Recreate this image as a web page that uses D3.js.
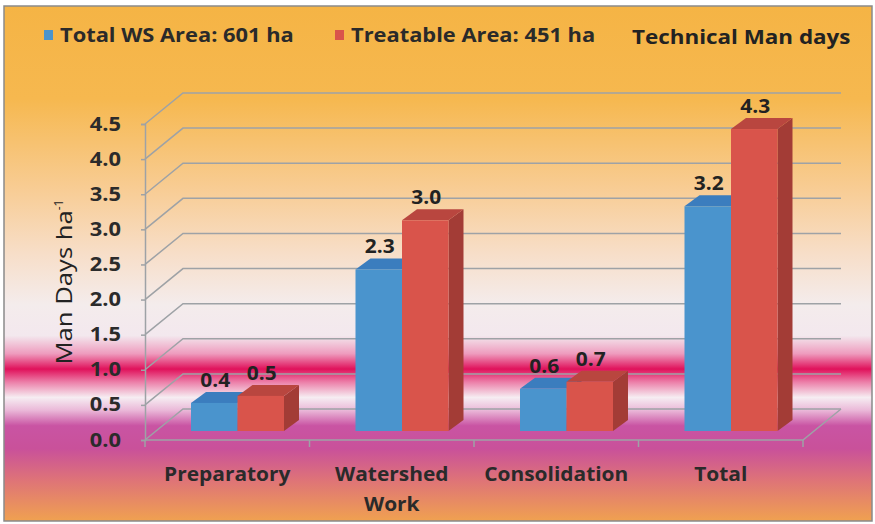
<!DOCTYPE html>
<html>
<head>
<meta charset="utf-8">
<script src="https://cdn.jsdelivr.net/npm/d3@7"></script>
<style>
  html, body { margin: 0; padding: 0; background: #fff; }
  svg { display: block; font-family: "Open Sans", "DejaVu Sans", sans-serif; }
</style>
</head>
<body>
<svg id="chart" width="875" height="524"></svg>
<script>
// Technical man days per hectare, by activity
const categories = ["Preparatory", "Watershed Work", "Consolidation", "Total"];
const categoryLines = [["Preparatory"], ["Watershed", "Work"], ["Consolidation"], ["Total"]];
const seriesNames = ["Total WS Area: 601 ha", "Treatable Area: 451 ha"];
const totalWsArea = [0.4, 2.3, 0.6, 3.2];
const treatableArea = [0.5, 3.0, 0.7, 4.3];
const yTicks = [0.0, 0.5, 1.0, 1.5, 2.0, 2.5, 3.0, 3.5, 4.0, 4.5];
const chartTitle = "Technical Man days";
const yTitle = "Man Days ha";

const series = [
  { name: seriesNames[0], values: totalWsArea, front: "#4A94CD", top: "#3B7DBE", side: "#2F6AA6" },
  { name: seriesNames[1], values: treatableArea, front: "#D9544B", top: "#B9463F", side: "#A33C36" }
];

const svg = d3.select("#chart");
const W = 875, H = 524;

// horizontally widened text, like the wide face used in the original chart
const wide = (sel, scale) => sel.each(function () {
  const len = this.getComputedTextLength();
  d3.select(this).attr("textLength", len * scale).attr("lengthAdjust", "spacingAndGlyphs");
});

// ---- background gradient ----
const defs = svg.append("defs");
const bg = defs.append("linearGradient").attr("id", "bg").attr("x1", 0).attr("y1", 0).attr("x2", 0).attr("y2", 1);
[
  [0.00, "#F5B445"], [0.18, "#F6B84F"], [0.36, "#F8CD96"], [0.48, "#F7DEC8"],
  [0.58, "#F4ECEC"], [0.64, "#F3E8EE"], [0.675, "#EE9CBE"], [0.705, "#E0115B"],
  [0.73, "#EC7EA8"], [0.76, "#F6EDF2"], [0.785, "#EAB8D8"], [0.815, "#C954A3"],
  [0.86, "#C9519A"], [0.92, "#DE7378"], [1.00, "#F0A150"]
].forEach(([o, c]) => bg.append("stop").attr("offset", o).attr("stop-color", c));

svg.append("rect").attr("x", 4).attr("y", 6).attr("width", W - 7).attr("height", H - 9)
  .attr("fill", "url(#bg)").attr("stroke", "#8a8a8a").attr("stroke-width", 1.5);

// ---- 3D frame geometry ----
const x0 = 145, x1 = 803;          // front floor extent
const wallDx = 38, wallDy = -31;   // depth offset of back wall
const barDx = 15, barDy = -11;     // depth of each bar
const barBase = 431;               // bar front-face baseline

const yFront = d3.scaleLinear().domain([0, 4.5]).range([440, 124]);
const yBar = d3.scaleLinear().domain([0, 4.5]).range([barBase, barBase - (440 - 124)]);

const xCat = d3.scaleBand().domain(categories).range([x0, x1]).padding(0);
const xSer = d3.scaleBand().domain(seriesNames).range([46, 139]).padding(0);

const grid = "#9EA2A6";
const g = svg.append("g");

// floor outline (front + right edge)
g.append("path")
  .attr("d", `M${x0},${yFront(0)}L${x1},${yFront(0)}L${x1 + wallDx},${yFront(0) + wallDy}`)
  .attr("fill", "none").attr("stroke", grid).attr("stroke-width", 1.5);

// back wall gridlines with side-wall connectors
yTicks.forEach(t => {
  const yf = yFront(t);
  g.append("path")
    .attr("d", `M${x0},${yf}L${x0 + wallDx},${yf + wallDy}L${x1 + wallDx},${yf + wallDy}`)
    .attr("fill", "none").attr("stroke", grid).attr("stroke-width", 1.5);
});

// category tick marks on the floor edge
xCat.domain().concat([null]).forEach(c => {
  const xx = c === null ? x1 : xCat(c);
  g.append("line").attr("x1", xx).attr("x2", xx).attr("y1", yFront(0)).attr("y2", yFront(0) + 7)
    .attr("stroke", grid).attr("stroke-width", 1.5);
});

// front value axis
const axis = d3.axisLeft(yFront).tickValues(yTicks).tickFormat(d3.format(".1f")).tickSize(4).tickPadding(20);
const ax = svg.append("g").attr("transform", `translate(${x0},0)`).call(axis);
ax.select(".domain").attr("stroke", grid).attr("stroke-width", 1.5);
ax.selectAll(".tick line").attr("stroke", grid).attr("stroke-width", 1.5);
ax.selectAll(".tick text").attr("fill", "#2b2b2b").attr("font-size", 19).attr("font-weight", 700)
  .attr("font-family", "'Open Sans', sans-serif").call(wide, 1.15);

// ---- bars ----
const bars = svg.append("g");
series.forEach(s => {
  s.values.forEach((v, i) => {
    const xa = xCat(categories[i]) + xSer(s.name);
    const xb = xa + xSer.bandwidth();
    const yt = yBar(v), yb = yBar(0);
    // side face
    bars.append("path")
      .attr("d", `M${xb},${yt}L${xb + barDx},${yt + barDy}L${xb + barDx},${yb + barDy}L${xb},${yb}Z`)
      .attr("fill", s.side);
    // top face
    bars.append("path")
      .attr("d", `M${xa},${yt}L${xa + barDx},${yt + barDy}L${xb + barDx},${yt + barDy}L${xb},${yt}Z`)
      .attr("fill", s.top);
    // front face
    bars.append("rect").attr("x", xa).attr("y", yt).attr("width", xb - xa).attr("height", yb - yt)
      .attr("fill", s.front);
  });
});

// value labels
series.forEach(s => {
  s.values.forEach((v, i) => {
    const xc = xCat(categories[i]) + xSer(s.name) + xSer.bandwidth() / 2 + 1;
    svg.append("text").attr("x", xc).attr("y", yBar(v) - 16)
      .attr("text-anchor", "middle").attr("font-size", 19).attr("font-weight", 700)
      .attr("fill", "#222").text(d3.format(".1f")(v)).call(wide, 1.1);
  });
});

// category labels
categoryLines.forEach((lines, i) => {
  const xc = xCat(categories[i]) + xCat.bandwidth() / 2;
  lines.forEach((ln, j) => {
    svg.append("text").attr("x", xc).attr("y", 481 + j * 30)
      .attr("text-anchor", "middle").attr("font-size", 19).attr("font-weight", 700)
      .attr("fill", "#2a2a2a").text(ln).call(wide, 1.1);
  });
});

// value axis title
const ytl = svg.append("text").attr("transform", "translate(72,282) rotate(-90)")
  .attr("text-anchor", "middle").attr("font-size", 21).attr("fill", "#222");
ytl.append("tspan").text(yTitle).call(wide, 1.22);
ytl.append("tspan").attr("font-size", 12).attr("dy", -9).text("-1");

// ---- legend and title ----
const legend = svg.append("g");
const legendX = [44, 335];
series.forEach((s, i) => {
  legend.append("rect").attr("x", legendX[i]).attr("y", 30).attr("width", 9).attr("height", 10).attr("fill", s.front);
  legend.append("text").attr("x", legendX[i] + 16).attr("y", 42)
    .attr("font-size", 19).attr("font-weight", 700).attr("fill", "#2a2a2a").text(s.name).call(wide, 1.15);
});
legend.append("text").attr("x", 632).attr("y", 44)
  .attr("font-size", 20).attr("font-weight", 700).attr("fill", "#222").text(chartTitle).call(wide, 1.12);
</script>
</body>
</html>
